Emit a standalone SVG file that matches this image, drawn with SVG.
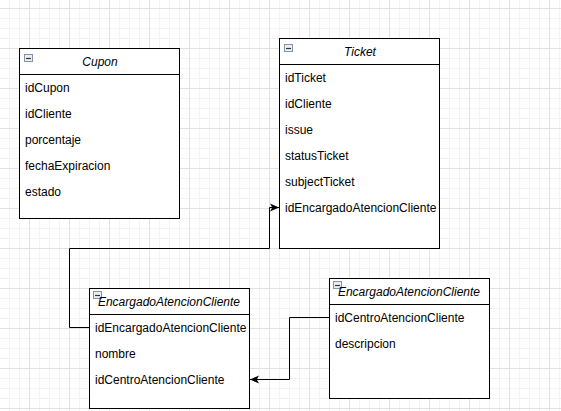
<svg xmlns="http://www.w3.org/2000/svg" width="561" height="411" viewBox="0 0 561 411">
<defs>
<pattern id="grid" x="29" y="8" width="40" height="40" patternUnits="userSpaceOnUse">
<path d="M10.5 0V40M20.5 0V40M30.5 0V40M0 10.5H40M0 20.5H40M0 30.5H40" stroke="#f3f3f3" stroke-width="1" fill="none"/>
<path d="M0.5 0V40M0 0.5H40" stroke="#e2e2e2" stroke-width="1" fill="none"/>
</pattern>
<marker id="arr" viewBox="0 0 10 10" refX="10" refY="5" markerWidth="9" markerHeight="9" markerUnits="userSpaceOnUse" orient="auto">
<path d="M0 0.5L10 5L0 9.5L2.5 5Z" fill="#000"/>
</marker>
<clipPath id="cTicket"><rect x="280" y="64" width="158" height="184"/></clipPath>
<clipPath id="cEnc1"><rect x="90" y="314" width="158" height="94"/></clipPath>
<g id="icon"><rect x="0.5" y="0.5" width="8" height="7" fill="#e9eef5" stroke="#8593a8"/><path d="M2 4.5H7" stroke="#333" stroke-width="1.2"/></g>
</defs>
<style>
.box{fill:#fff;stroke:#000;stroke-width:1}
.div{stroke:#000;stroke-width:1}
.t{font-family:"Liberation Sans",Arial,sans-serif;font-size:12px;fill:#000}
.h{font-style:italic;text-anchor:middle}
.c{fill:none;stroke:#000;stroke-width:1}
</style>
<rect width="561" height="411" fill="#fff"/>
<rect width="561" height="411" fill="url(#grid)"/>

<g id="connectors">
<path class="c" d="M89 327.5H69.5V248.5H269.5V207.5H279" marker-end="url(#arr)"/>
<path class="c" d="M329 317.5H289.5V379.5H250" marker-end="url(#arr)"/>
</g>

<g id="cupon">
<rect class="box" x="19.5" y="48.5" width="160" height="170"/>
<line class="div" x1="19.5" y1="74.5" x2="179.5" y2="74.5"/>
<use href="#icon" x="24" y="54"/>
<text class="t h" x="100" y="66">Cupon</text>
<text class="t" x="25" y="92">idCupon</text>
<text class="t" x="25" y="118">idCliente</text>
<text class="t" x="25" y="144">porcentaje</text>
<text class="t" x="25" y="170">fechaExpiracion</text>
<text class="t" x="25" y="196">estado</text>
</g>

<g id="ticket">
<rect class="box" x="279.5" y="38.5" width="160" height="210"/>
<line class="div" x1="279.5" y1="64.5" x2="439.5" y2="64.5"/>
<use href="#icon" x="284" y="44"/>
<text class="t h" x="360" y="56">Ticket</text>
<g clip-path="url(#cTicket)">
<text class="t" x="285" y="82">idTicket</text>
<text class="t" x="285" y="108">idCliente</text>
<text class="t" x="285" y="134">issue</text>
<text class="t" x="285" y="160">statusTicket</text>
<text class="t" x="285" y="186">subjectTicket</text>
<text class="t" x="285" y="212">idEncargadoAtencionCliente</text>
</g>
</g>

<g id="encargado1">
<rect class="box" x="89.5" y="288.5" width="160" height="120"/>
<line class="div" x1="89.5" y1="314.5" x2="249.5" y2="314.5"/>
<use href="#icon" x="93" y="291"/>
<text class="t h" x="169" y="306">EncargadoAtencionCliente</text>
<g clip-path="url(#cEnc1)">
<text class="t" x="95" y="332">idEncargadoAtencionCliente</text>
<text class="t" x="95" y="358">nombre</text>
<text class="t" x="95" y="384">idCentroAtencionCliente</text>
</g>
</g>

<g id="encargado2">
<rect class="box" x="329.5" y="278.5" width="160" height="120"/>
<line class="div" x1="329.5" y1="304.5" x2="489.5" y2="304.5"/>
<use href="#icon" x="333" y="281"/>
<text class="t h" x="409" y="296">EncargadoAtencionCliente</text>
<text class="t" x="335" y="322">idCentroAtencionCliente</text>
<text class="t" x="335" y="348">descripcion</text>
</g>
</svg>
